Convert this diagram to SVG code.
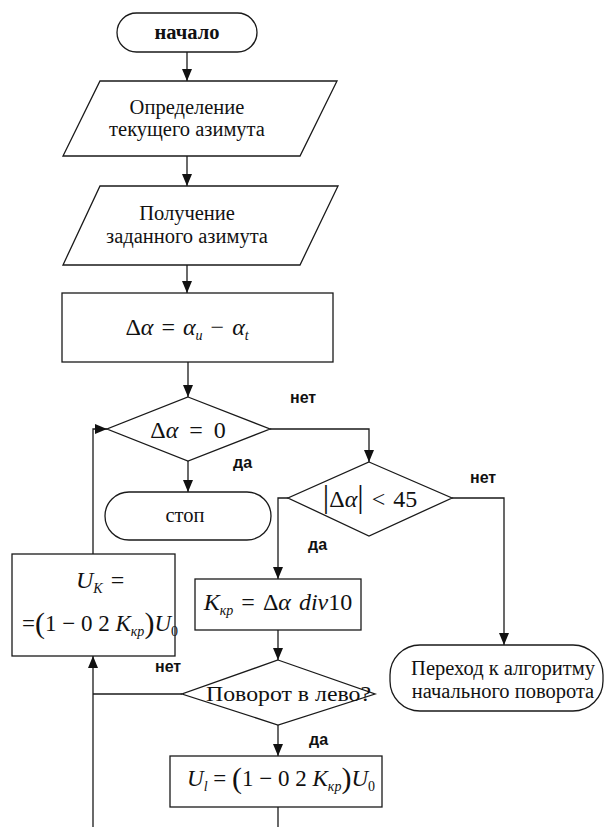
<svg xmlns="http://www.w3.org/2000/svg" width="612" height="827" viewBox="0 0 612 827">
<defs>
<marker id="ah" markerUnits="userSpaceOnUse" markerWidth="12" markerHeight="10" refX="12" refY="5" orient="auto">
<path d="M0,0 L12,5 L0,10 Z" fill="#111"/>
</marker>
<style>
.s{fill:#fff;stroke:#1a1a1a;stroke-width:1.3}
.c{fill:none;stroke:#1a1a1a;stroke-width:1.3;marker-end:url(#ah)}
.l{fill:none;stroke:#1a1a1a;stroke-width:1.3}
.t{font-family:"Liberation Serif","Times New Roman",serif;font-size:20.5px;fill:#111}
.b{font-weight:bold}
.m{font-family:"Liberation Serif","Times New Roman",serif;font-size:24px;fill:#111;word-spacing:2px}
.i{font-style:italic}
.sub{font-size:14px}
.p{font-size:30px}
.lab{font-family:"Liberation Sans",Arial,sans-serif;font-size:16px;font-weight:bold;fill:#111}
</style>
</defs>
<rect width="612" height="827" fill="#fff"/>
<g id="connectors">
<path class="c" d="M187,52 V81"/>
<path class="c" d="M187,156 V186"/>
<path class="c" d="M187,265 V293"/>
<path class="c" d="M188,362 V397"/>
<path class="c" d="M270,429 H369 V462"/>
<path class="c" d="M188,461 V492"/>
<path class="c" d="M452,498 H504 V645"/>
<path class="c" d="M288,498 H278 V579"/>
<path class="c" d="M278,630 V660"/>
<path class="c" d="M278,725 V756"/>
<path class="l" d="M278,807 V827"/>
<path class="l" d="M182,694 H93"/>
<path class="c" d="M93,827 V656"/>
<path class="c" d="M93,554 V429 H107"/>
</g>
<g id="start">
<rect class="s" x="117" y="13" width="140" height="39" rx="19.5"/>
<text class="t b" x="187" y="39" text-anchor="middle">начало</text>
</g>
<g id="input1">
<polygon class="s" points="100,81 337,81 300,156 63,156"/>
<text class="t" x="187" y="114" text-anchor="middle">Определение</text>
<text class="t" x="187" y="136" text-anchor="middle">текущего азимута</text>
</g>
<g id="input2">
<polygon class="s" points="100,186 338,186 300,265 63,265"/>
<text class="t" x="187" y="220" text-anchor="middle">Получение</text>
<text class="t" x="187" y="243" text-anchor="middle">заданного азимута</text>
</g>
<g id="calc-delta">
<rect class="s" x="62" y="293" width="271" height="69"/>
<text class="m" x="187" y="335" text-anchor="middle">Δ<tspan class="i">α</tspan> = <tspan class="i">α</tspan><tspan class="sub i" dy="5">u</tspan><tspan dy="-5"> − </tspan><tspan class="i">α</tspan><tspan class="sub i" dy="5">t</tspan></text>
</g>
<g id="check-zero">
<polygon class="s" points="188,397 270,429 188,461 107,429"/>
<text class="m" x="188" y="438" text-anchor="middle" style="word-spacing:5px">Δ<tspan class="i">α</tspan> = 0</text>
</g>
<g id="stop">
<rect class="s" x="105" y="492" width="166" height="48" rx="24"/>
<text class="t" x="185" y="522" text-anchor="middle">стоп</text>
</g>
<g id="check-45">
<polygon class="s" points="369,462 452,498 369,536 288,498"/>
<text class="m" x="370" y="507" text-anchor="middle"><tspan font-size="32">|</tspan>Δ<tspan class="i">α</tspan><tspan font-size="32">|</tspan> &lt; 45</text>
</g>
<g id="calc-k">
<rect class="s" x="195" y="579" width="166" height="51"/>
<text class="m" x="278" y="610" text-anchor="middle"><tspan class="i">K</tspan><tspan class="sub i" dy="5">кр</tspan><tspan dy="-5"> = Δ</tspan><tspan class="i">α div</tspan>10</text>
</g>
<g id="check-left">
<polygon class="s" points="278,660 375,694 278,725 182,694"/>
<text class="t" x="206" y="701" style="font-size:21px" textLength="165" lengthAdjust="spacingAndGlyphs">Поворот в лево?</text>
</g>
<g id="calc-ur">
<rect class="s" x="12" y="554" width="163" height="102"/>
<text class="m" x="76" y="588"><tspan class="i">U</tspan><tspan class="sub i" dy="5">K</tspan><tspan dy="-5"> =</tspan></text>
<text class="m" x="22" y="631" style="font-size:23px;word-spacing:0">=<tspan class="p" dy="2">(</tspan><tspan dy="-2">1 − 0 2 </tspan><tspan class="i">K</tspan><tspan class="sub i" dy="5">кр</tspan><tspan class="p" dy="-3">)</tspan><tspan class="i" dy="-2">U</tspan><tspan class="sub" dy="5">0</tspan></text>
</g>
<g id="calc-ul">
<rect class="s" x="170" y="756" width="212" height="51"/>
<text class="m" x="187" y="786" style="font-size:23px;word-spacing:0"><tspan class="i">U</tspan><tspan class="sub i" dy="5">l</tspan><tspan dy="-5"> = </tspan><tspan class="p" dy="2">(</tspan><tspan dy="-2">1 − 0 2 </tspan><tspan class="i">K</tspan><tspan class="sub i" dy="5">кр</tspan><tspan class="p" dy="-3">)</tspan><tspan class="i" dy="-2">U</tspan><tspan class="sub" dy="5">0</tspan></text>
</g>
<g id="initial-turn">
<rect class="s" x="390" y="645" width="213" height="66" rx="30"/>
<text class="t" x="503" y="675" text-anchor="middle">Переход к алгоритму</text>
<text class="t" x="503" y="698" text-anchor="middle">начального поворота</text>
</g>
<g id="labels">
<text class="lab" x="290" y="403">нет</text>
<text class="lab" x="233" y="468">да</text>
<text class="lab" x="470" y="483">нет</text>
<text class="lab" x="308" y="550">да</text>
<text class="lab" x="155" y="672">нет</text>
<text class="lab" x="309" y="745">да</text>
</g>
</svg>
